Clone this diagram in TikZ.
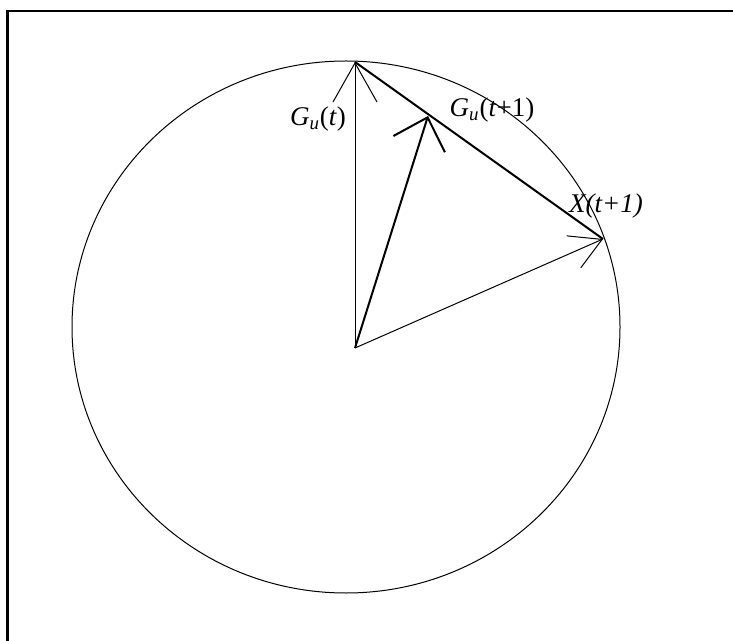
\documentclass[tikz,border=0pt]{standalone}
\usepackage{fontspec}
\setmainfont{Liberation Serif}
\usetikzlibrary{arrows.meta}

\begin{document}
\begin{tikzpicture}[
  x=0.5pt, y=-0.5pt,
  font=\fontsize{13.5}{16}\selectfont,
  sottile/.style={draw=black, line width=0.5pt},
  spesso/.style={draw=black, line width=1pt},
  cornice/.style={draw=black, line width=1.3pt},
  etich/.style={inner sep=0pt}
]
\useasboundingbox (0,0) rectangle (733,641);

%--------------------------------------------------------------
% Cornice (lati sinistro e superiore)
%--------------------------------------------------------------
\draw[cornice] (7.5,641) -- (7.5,11) -- (733,11);

%--------------------------------------------------------------
% Circonferenza e punti
%--------------------------------------------------------------
\draw[sottile] (346,327) ellipse [x radius=274, y radius=266];

\coordinate (O)   at (355,348);
\coordinate (Gt)  at (355,62);
\coordinate (Gt1) at (428,116);
\coordinate (X)   at (603,239);

%--------------------------------------------------------------
% Vettori
%--------------------------------------------------------------
\draw[sottile, -{Straight Barb[length=19.5pt, width=22pt]}] (O) -- (Gt);
\draw[spesso, -{Straight Barb[length=14pt, width=27pt]}] (O) -- (Gt1);
\draw[sottile, -{Straight Barb[length=15.5pt, width=17.5pt]}] (O) -- (X);
\draw[spesso] (Gt) -- (X);

%--------------------------------------------------------------
% Etichette
%--------------------------------------------------------------
\node[etich] (lGt)  at (318,119) {\textit{G\textsubscript{u}}(\textit{t})};
\node[etich] (lGt1) at (492,110) {\textit{G\textsubscript{u}}(\textit{t}+1)};
\node[etich] (lX)   at (606,206) {\textit{X(t+1)}};

\end{tikzpicture}
\end{document}
